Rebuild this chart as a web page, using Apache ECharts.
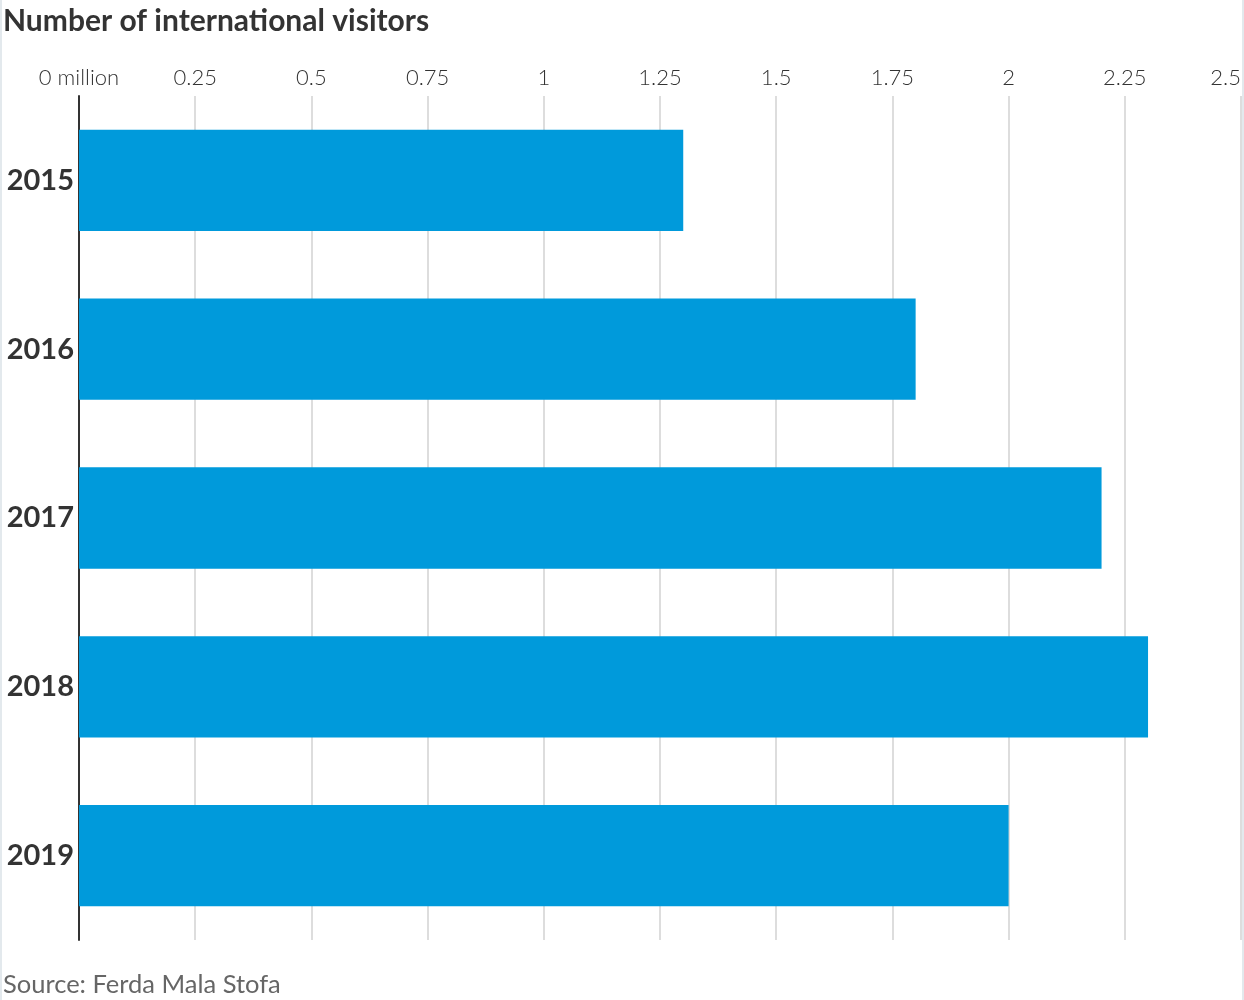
<!DOCTYPE html>
<html>
<head>
<meta charset="utf-8">
<script src="https://cdn.jsdelivr.net/npm/echarts@6/dist/echarts.min.js"></script>
<style>
html,body{margin:0;padding:0;background:#fff;}
#chart{width:1244px;height:1000px;}
</style>
</head>
<body>
<div id="chart"></div>
<script>
const categories = ['2015', '2016', '2017', '2018', '2019'];
const visitors = [1.3, 1.8, 2.2, 2.3, 2.0];
const tickLabels = {0: '0 million', 0.25: '0.25', 0.5: '0.5', 0.75: '0.75', 1: '1', 1.25: '1.25', 1.5: '1.5', 1.75: '1.75', 2: '2', 2.25: '2.25', 2.5: '2.5'};

const chart = echarts.init(document.getElementById('chart'));
const font = 'Lato, "Noto Sans", sans-serif';
chart.setOption({
  animation: false,
  title: [
    {text: 'Number of international visitors', left: 3, top: 6, padding: 0,
     textStyle: {fontFamily: font, fontSize: 30, fontWeight: 'bold', color: '#333'}},
    {text: 'Source: Ferda Mala Stofa', left: 3, top: 972, padding: 0,
     textStyle: {fontFamily: font, fontSize: 25.5, fontWeight: 'normal', color: '#666'}}
  ],
  graphic: [
    {type: 'rect', shape: {x: 0, y: 0, width: 2, height: 1000}, style: {fill: '#e3e9ed'}},
    {type: 'rect', shape: {x: 1242, y: 0, width: 2, height: 1000}, style: {fill: '#e3e9ed'}}
  ],
  grid: {left: 79, right: 3, top: 96, bottom: 60, containLabel: false},
  xAxis: {
    type: 'value', position: 'top', min: 0, max: 2.5, interval: 0.25,
    axisLine: {show: false}, axisTick: {show: false},
    splitLine: {show: true, lineStyle: {color: '#dddddd', width: 2}},
    axisLabel: {
      fontFamily: font, fontSize: 22, color: '#333', fontWeight: 300, margin: 7,
      alignMaxLabel: 'right',
      formatter: v => tickLabels[Math.round(v * 100) / 100] ?? String(v)
    }
  },
  yAxis: {
    type: 'category', data: categories, inverse: true,
    axisLine: {show: true, lineStyle: {color: '#333', width: 2}},
    axisTick: {show: false},
    axisLabel: {fontFamily: font, fontSize: 29, fontWeight: 'bold', color: '#333', margin: 5, padding: [6, 0, 0, 0]}
  },
  series: [{
    type: 'bar', data: visitors, barCategoryGap: '40%',
    itemStyle: {color: '#009ADB'}, z: 1
  }]
});
</script>
</body>
</html>
